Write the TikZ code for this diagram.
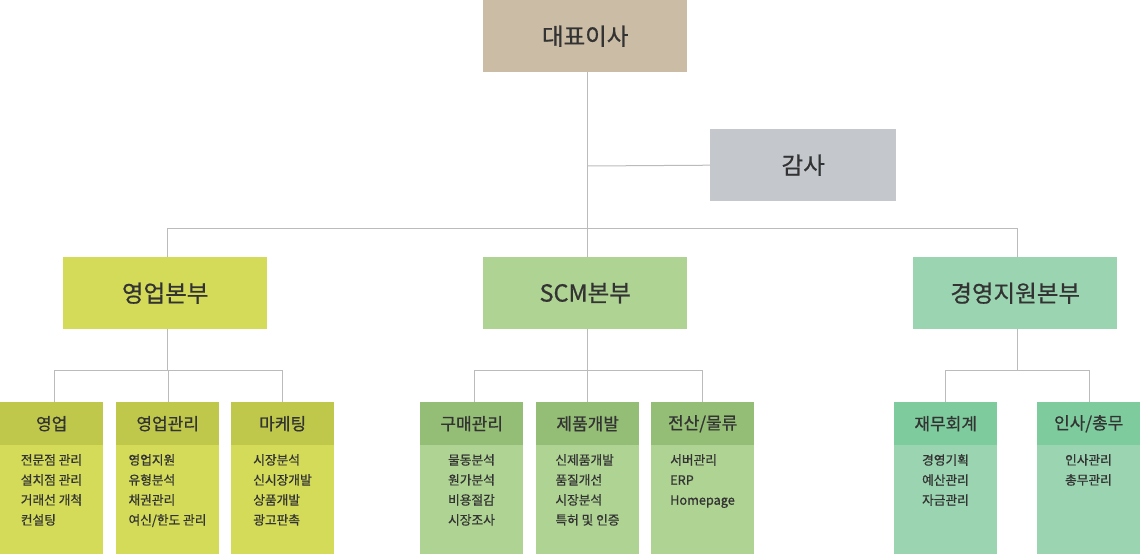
\documentclass[tikz,border=0pt]{standalone}
\usepackage{fontspec}
\setmainfont{Noto Sans CJK KR}[UprightFeatures={FakeBold=0.7}]
\definecolor{ceo}{HTML}{CBBCA5}
\definecolor{audit}{HTML}{C4C8CD}
\definecolor{yelA}{HTML}{D3DB59}
\definecolor{yelH}{HTML}{BFC84B}
\definecolor{grnA}{HTML}{AFD393}
\definecolor{grnH}{HTML}{94BD75}
\definecolor{mntA}{HTML}{9AD4B0}
\definecolor{mntH}{HTML}{7ECC9D}
\definecolor{txt}{HTML}{333333}
\definecolor{lin}{HTML}{BBBBBB}
\begin{document}
\begin{tikzpicture}[x=1pt,y=-1pt,
  bigbox/.style={anchor=north west,inner sep=0,minimum width=204pt,minimum height=72pt,text=txt,font=\fontsize{23.5}{28}\selectfont},
  hdbox/.style={anchor=north west,inner sep=0,minimum width=103pt,minimum height=43pt,text=txt,font=\fontsize{17}{20}\selectfont},
  bodytext/.style={anchor=north,inner sep=0,align=left,text=txt,font=\fontsize{12.7}{20}\selectfont},
  conn/.style={draw=lin,line width=1pt}]
\useasboundingbox (0,0) rectangle (1140,554);
% top
\node[bigbox,fill=ceo] (ceo) at (483,0) {대표이사};
\node[bigbox,fill=audit,minimum width=186pt] (audit) at (710,129) {감사};
\node[bigbox,fill=yelA] (sales) at (63,257) {영업본부};
\node[bigbox,fill=grnA] (scm) at (483,257) {SCM본부};
\node[bigbox,fill=mntA] (mgmt) at (913,257) {경영지원본부};
% connectors top
\coordinate (j1) at (587,166);
\coordinate (j2) at (587,228);
\coordinate (jl) at (167,228);
\coordinate (jr) at (1017,228);
\draw[conn] (j2 |- ceo.south) -- (j2);
\draw[conn] (j1) -- (audit.west);
\draw[conn] (jl |- sales.north) -- (jl) -- (jr) -- (jr |- mgmt.north);
\draw[conn] (j2) -- (j2 |- scm.north);
% bottom boxes
\foreach \nm/\x/\hc/\bc/\lbl in {
  b1/0/yelH/yelA/{영업}, b2/116/yelH/yelA/{영업관리}, b3/231/yelH/yelA/{마케팅},
  b4/420/grnH/grnA/{구매관리}, b5/536/grnH/grnA/{제품개발}, b6/651/grnH/grnA/{전산/물류},
  b7/894/mntH/mntA/{재무회계}, b8/1037/mntH/mntA/{인사/총무}}{
  \fill[\bc] (\x,445) rectangle ++(103,109);
  \node[hdbox,fill=\hc] (\nm) at (\x,402) {\lbl};
}
\node[bodytext] (t1) at (51.5,454) {전문점 관리\\설치점 관리\\거래선 개척\\컨설팅};
\node[bodytext] (t2) at (167.5,454) {영업지원\\유형분석\\채권관리\\여신/한도 관리};
\node[bodytext] (t3) at (282.5,454) {시장분석\\신시장개발\\상품개발\\광고판촉};
\node[bodytext] (t4) at (471.5,454) {물동분석\\원가분석\\비용절감\\시장조사};
\node[bodytext] (t5) at (587.5,454) {신제품개발\\품질개선\\시장분석\\특허 및 인증};
\node[bodytext] (t6) at (702.5,454) {서버관리\\ERP\\Homepage};
\node[bodytext] (t7) at (945.5,454) {경영기획\\예산관리\\자금관리};
\node[bodytext] (t8) at (1088.5,454) {인사관리\\총무관리};
% connectors bottom
\coordinate (k1) at (167,370);
\coordinate (k2) at (587,370);
\coordinate (k3) at (1017,370);
\coordinate (c1) at (54,402);
\coordinate (c2) at (168,402);
\coordinate (c3) at (282,402);
\coordinate (c4) at (474,402);
\coordinate (c5) at (587,402);
\coordinate (c6) at (702,402);
\coordinate (c7) at (945,402);
\coordinate (c8) at (1089,402);
\draw[conn] (k1 |- sales.south) -- (k1);
\draw[conn] (c1) -- (c1 |- k1) -- (c3 |- k1) -- (c3);
\draw[conn] (c2 |- k1) -- (c2);
\draw[conn] (k2 |- scm.south) -- (k2);
\draw[conn] (c4) -- (c4 |- k2) -- (c6 |- k2) -- (c6);
\draw[conn] (k2) -- (c5);
\draw[conn] (k3 |- mgmt.south) -- (k3);
\draw[conn] (c7) -- (c7 |- k3) -- (c8 |- k3) -- (c8);
\end{tikzpicture}
\end{document}
